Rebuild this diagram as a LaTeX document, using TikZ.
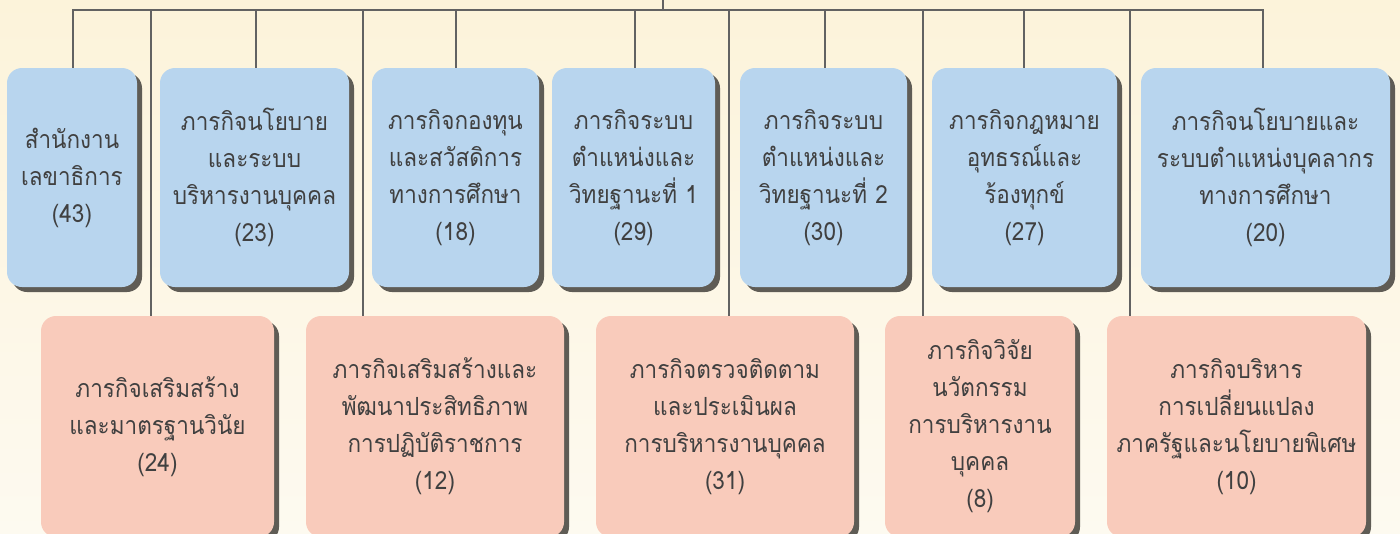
\documentclass[tikz,border=0pt]{standalone}
\usepackage{fontspec}
\newfontfamily\thaifont[Script=Thai,FakeStretch=0.9]{Loma}
\usetikzlibrary{shadows}
\definecolor{bgtop}{HTML}{FCF3DA}
\definecolor{bgbot}{HTML}{FDFAF0}
\definecolor{bluefill}{HTML}{B8D5EE}
\definecolor{pinkfill}{HTML}{F9CBBB}
\definecolor{shadowc}{HTML}{5F5C55}
\definecolor{linec}{HTML}{626262}
\definecolor{txtc}{HTML}{404040}
\tikzset{
  box/.style={rounded corners=15pt, inner sep=0pt, align=center, text=txtc,
    font=\thaifont\fontsize{25}{37}\selectfont,
    drop shadow={shadow xshift=5pt, shadow yshift=-5pt, fill=shadowc, opacity=1}},
  bluebox/.style={box, fill=bluefill, minimum height=219pt},
  pinkbox/.style={box, fill=pinkfill, minimum height=221pt},
  conn/.style={draw=linec, line width=1.6pt}
}
\begin{document}
\begin{tikzpicture}[x=1pt,y=-1pt]
\useasboundingbox (0,0) rectangle (1400,533);
\shade[top color=bgtop, bottom color=bgbot] (0,0) rectangle (1400,533);

% blue boxes
\node[bluebox, minimum width=130pt, text width=126pt] (b1) at (72,177.5) {สำนักงาน\\เลขาธิการ\\(43)};
\node[bluebox, minimum width=189pt, text width=185pt] (b2) at (254.5,177.5) {ภารกิจนโยบาย\\และระบบ\\บริหารงานบุคคล\\(23)};
\node[bluebox, minimum width=167pt, text width=163pt] (b3) at (455.5,177.5) {ภารกิจกองทุน\\และสวัสดิการ\\ทางการศึกษา\\(18)};
\node[bluebox, minimum width=163pt, text width=159pt] (b4) at (633.5,177.5) {ภารกิจระบบ\\ตำแหน่งและ\\วิทยฐานะที่ 1\\(29)};
\node[bluebox, minimum width=167pt, text width=163pt] (b5) at (823.5,177.5) {ภารกิจระบบ\\ตำแหน่งและ\\วิทยฐานะที่ 2\\(30)};
\node[bluebox, minimum width=185pt, text width=181pt] (b6) at (1024.5,177.5) {ภารกิจกฎหมาย\\อุทธรณ์และ\\ร้องทุกข์\\(27)};
\node[bluebox, minimum width=249pt, text width=245pt] (b7) at (1265.5,177.5) {ภารกิจนโยบายและ\\ระบบตำแหน่งบุคลากร\\ทางการศึกษา\\(20)};

% pink boxes
\node[pinkbox, minimum width=233pt, text width=229pt] (p1) at (157.5,426.5) {ภารกิจเสริมสร้าง\\และมาตรฐานวินัย\\(24)};
\node[pinkbox, minimum width=258pt, text width=254pt] (p2) at (435,426.5) {ภารกิจเสริมสร้างและ\\พัฒนาประสิทธิภาพ\\การปฏิบัติราชการ\\(12)};
\node[pinkbox, minimum width=258pt, text width=254pt] (p3) at (725,426.5) {ภารกิจตรวจติดตาม\\และประเมินผล\\การบริหารงานบุคคล\\(31)};
\node[pinkbox, minimum width=190pt, text width=186pt] (p4) at (980,426.5) {ภารกิจวิจัย\\นวัตกรรม\\การบริหารงาน\\บุคคล\\(8)};
\node[pinkbox, minimum width=259pt, text width=255pt] (p5) at (1236.5,426.5) {ภารกิจบริหาร\\การเปลี่ยนแปลง\\ภาครัฐและนโยบายพิเศษ\\(10)};

% bus coordinates
\coordinate (top) at (663,0);
\coordinate (busL) at (73,10);
\coordinate (busR) at (1263,10);
\coordinate (tb1) at (73,10);
\coordinate (tb2) at (256,10);
\coordinate (tb3) at (456,10);
\coordinate (tb4) at (635,10);
\coordinate (tb5) at (825,10);
\coordinate (tb6) at (1024,10);
\coordinate (tb7) at (1263,10);
\coordinate (tp1) at (151,10);
\coordinate (tp2) at (363,10);
\coordinate (tp3) at (729,10);
\coordinate (tp4) at (923,10);
\coordinate (tp5) at (1130,10);
\coordinate (tm) at (663,10);

\draw[conn] (top) -- (tm);
\draw[conn, line cap=rect] (busL) -- (busR);
\foreach \i in {1,...,7} { \draw[conn] (tb\i) -- (tb\i |- b\i.north); }
\foreach \i in {1,...,5} { \draw[conn] (tp\i) -- (tp\i |- p\i.north); }
\end{tikzpicture}
\end{document}
